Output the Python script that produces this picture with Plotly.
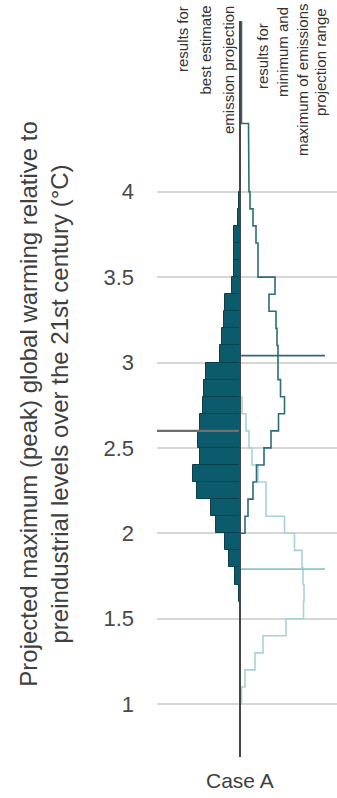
import plotly.graph_objects as go

# Peak warming distributions (share of ensemble members per 0.1 °C bin)
bin_step = 0.1

best_lows = [1.6, 1.7, 1.8, 1.9, 2.0, 2.1, 2.2, 2.3, 2.4, 2.5, 2.6, 2.7,
             2.8, 2.9, 3.0, 3.1, 3.2, 3.3, 3.4, 3.5, 3.6, 3.7, 3.8, 3.9]
best_share = [0.2, 1.1, 2.2, 3.1, 4.8, 5.9, 8.6, 9.4, 8.1, 8.4, 8.1, 7.4,
              7.2, 6.8, 4.0, 3.6, 3.2, 3.0, 1.6, 1.3, 1.3, 1.3, 0.4, 0.3]

max_lows = [2.0, 2.1, 2.2, 2.3, 2.4, 2.5, 2.6, 2.7, 2.8, 2.9, 3.0, 3.1,
            3.2, 3.3, 3.4, 3.5, 3.6, 3.7, 3.8, 3.9, 4.0, 4.1, 4.2, 4.3,
            4.4, 4.5, 4.6, 4.7, 4.8, 4.9]
max_share = [1.0, 1.6, 2.6, 3.3, 4.8, 6.2, 7.7, 8.9, 8.1, 7.6, 7.6, 7.4,
             7.2, 5.8, 7.0, 3.6, 3.6, 3.2, 2.6, 2.0, 1.8, 1.8, 1.7, 1.7,
             0.3, 0.3, 0.3, 0.3, 0.3, 0.3]

min_lows = [1.0, 1.1, 1.2, 1.3, 1.4, 1.5, 1.6, 1.7, 1.8, 1.9, 2.0, 2.1,
            2.2, 2.3, 2.4, 2.5, 2.6, 2.7]
min_share = [0.3, 1.0, 3.0, 4.6, 9.2, 12.7, 12.8, 12.6, 12.4, 10.9, 8.9, 5.2,
             5.2, 3.6, 2.4, 1.8, 1.2, 0.4]

# Medians of each distribution (°C)
median_best = 2.6
median_max = 3.04
median_min = 1.79

y_ticks = [1, 1.5, 2, 2.5, 3, 3.5, 4]
y_tick_text = ["1", "1.5", "2", "2.5", "3", "3.5", "4"]
case_label = "Case A"
y_title = ("Projected maximum (peak) global warming relative to<br>"
           "preindustrial levels over the 21st century (°C)")

x_range = [-16.6, 19.4]
y_range = [0.69, 5.0]
median_right_len = 17

FONT = "Liberation Sans, Arial, sans-serif"
TEAL_DARK = "#0b5b6c"
TEAL_EDGE = "#08404b"
TEAL_LINE = "#2f6c77"
TEAL_LIGHT = "#a9d2d6"


def step_outline(lows, shares):
    xs, ys = [0], [lows[0]]
    for lo, w in zip(lows, shares):
        xs += [w, w]
        ys += [lo, lo + bin_step]
    xs.append(0)
    ys.append(lows[-1] + bin_step)
    return xs, ys


fig = go.Figure()

# Best-estimate emissions: filled bars to the left of the axis
fig.add_trace(go.Bar(
    orientation="h",
    y=[lo + bin_step / 2 for lo in best_lows],
    x=[-s for s in best_share],
    width=bin_step,
    marker=dict(color=TEAL_DARK, line=dict(color=TEAL_EDGE, width=1)),
    hoverinfo="skip",
))

# Minimum / maximum emissions: step outlines to the right
mx, my = step_outline(min_lows, min_share)
fig.add_trace(go.Scatter(x=mx, y=my, mode="lines",
                         line=dict(color=TEAL_LIGHT, width=1.6)))
xx, xy = step_outline(max_lows, max_share)
fig.add_trace(go.Scatter(x=xx, y=xy, mode="lines",
                         line=dict(color=TEAL_LINE, width=1.6)))

# Median markers
fig.add_trace(go.Scatter(x=[x_range[0], 0], y=[median_best, median_best],
                         mode="lines", line=dict(color="#6e6e6e", width=2.2)))
fig.add_trace(go.Scatter(x=[0, median_right_len], y=[median_max, median_max],
                         mode="lines", line=dict(color=TEAL_LINE, width=1.8)))
fig.add_trace(go.Scatter(x=[0, median_right_len], y=[median_min, median_min],
                         mode="lines", line=dict(color="#8fc3c9", width=1.8)))

# Central axis line
fig.add_trace(go.Scatter(x=[0, 0], y=y_range, mode="lines",
                         line=dict(color="#454545", width=2)))

annotations = [
    dict(text=y_title, xref="paper", yref="paper", x=0, y=0.48,
         xshift=-113, xanchor="center", yanchor="middle",
         textangle=-90, showarrow=False, align="center",
         font=dict(family=FONT, size=24, color="#404040")),
    dict(text=case_label, xref="x", yref="paper", x=0, y=0, yshift=-10,
         xanchor="center", yanchor="top", showarrow=False,
         font=dict(family=FONT, size=21, color="#404040")),
]

# Column headers above the distributions
header_left = ["results for", "best estimate", "emission projection"]
header_left_x = [183, 205, 229]
for txt, px in zip(header_left, header_left_x):
    annotations.append(dict(
        text=txt, xref="paper", yref="paper",
        x=(px - 157) / 180, y=(757 - 4) / 736,
        xanchor="center", yanchor="top",
        textangle=-90, showarrow=False,
        font=dict(family=FONT, size=15, color="#333333")))

header_right = ["results for", "minimum and", "maximum of emissions", "projection range"]
header_right_x = [263, 282, 302, 320]
header_right_y = [56, 52, 80, 62]
for txt, px, py in zip(header_right, header_right_x, header_right_y):
    annotations.append(dict(
        text=txt, xref="paper", yref="paper",
        x=(px - 157) / 180, y=(757 - py) / 736,
        xanchor="center", yanchor="middle",
        textangle=-90, showarrow=False,
        font=dict(family=FONT, size=15, color="#333333")))

fig.update_layout(
    width=337, height=798,
    margin=dict(l=157, r=0, t=21, b=41),
    paper_bgcolor="white", plot_bgcolor="white",
    showlegend=False, bargap=0,
    annotations=annotations,
    xaxis=dict(range=x_range, showgrid=False, zeroline=False,
               showticklabels=False, showline=False, fixedrange=True),
    yaxis=dict(range=y_range, tickvals=y_ticks, ticktext=y_tick_text,
               showgrid=True, gridcolor="#d6d6d6", gridwidth=1.5,
               zeroline=False, showline=False, ticks="",
               ticklabelstandoff=22,
               tickfont=dict(family=FONT, size=22, color="#4a4a4a")),
)

fig.write_html("out.html")
